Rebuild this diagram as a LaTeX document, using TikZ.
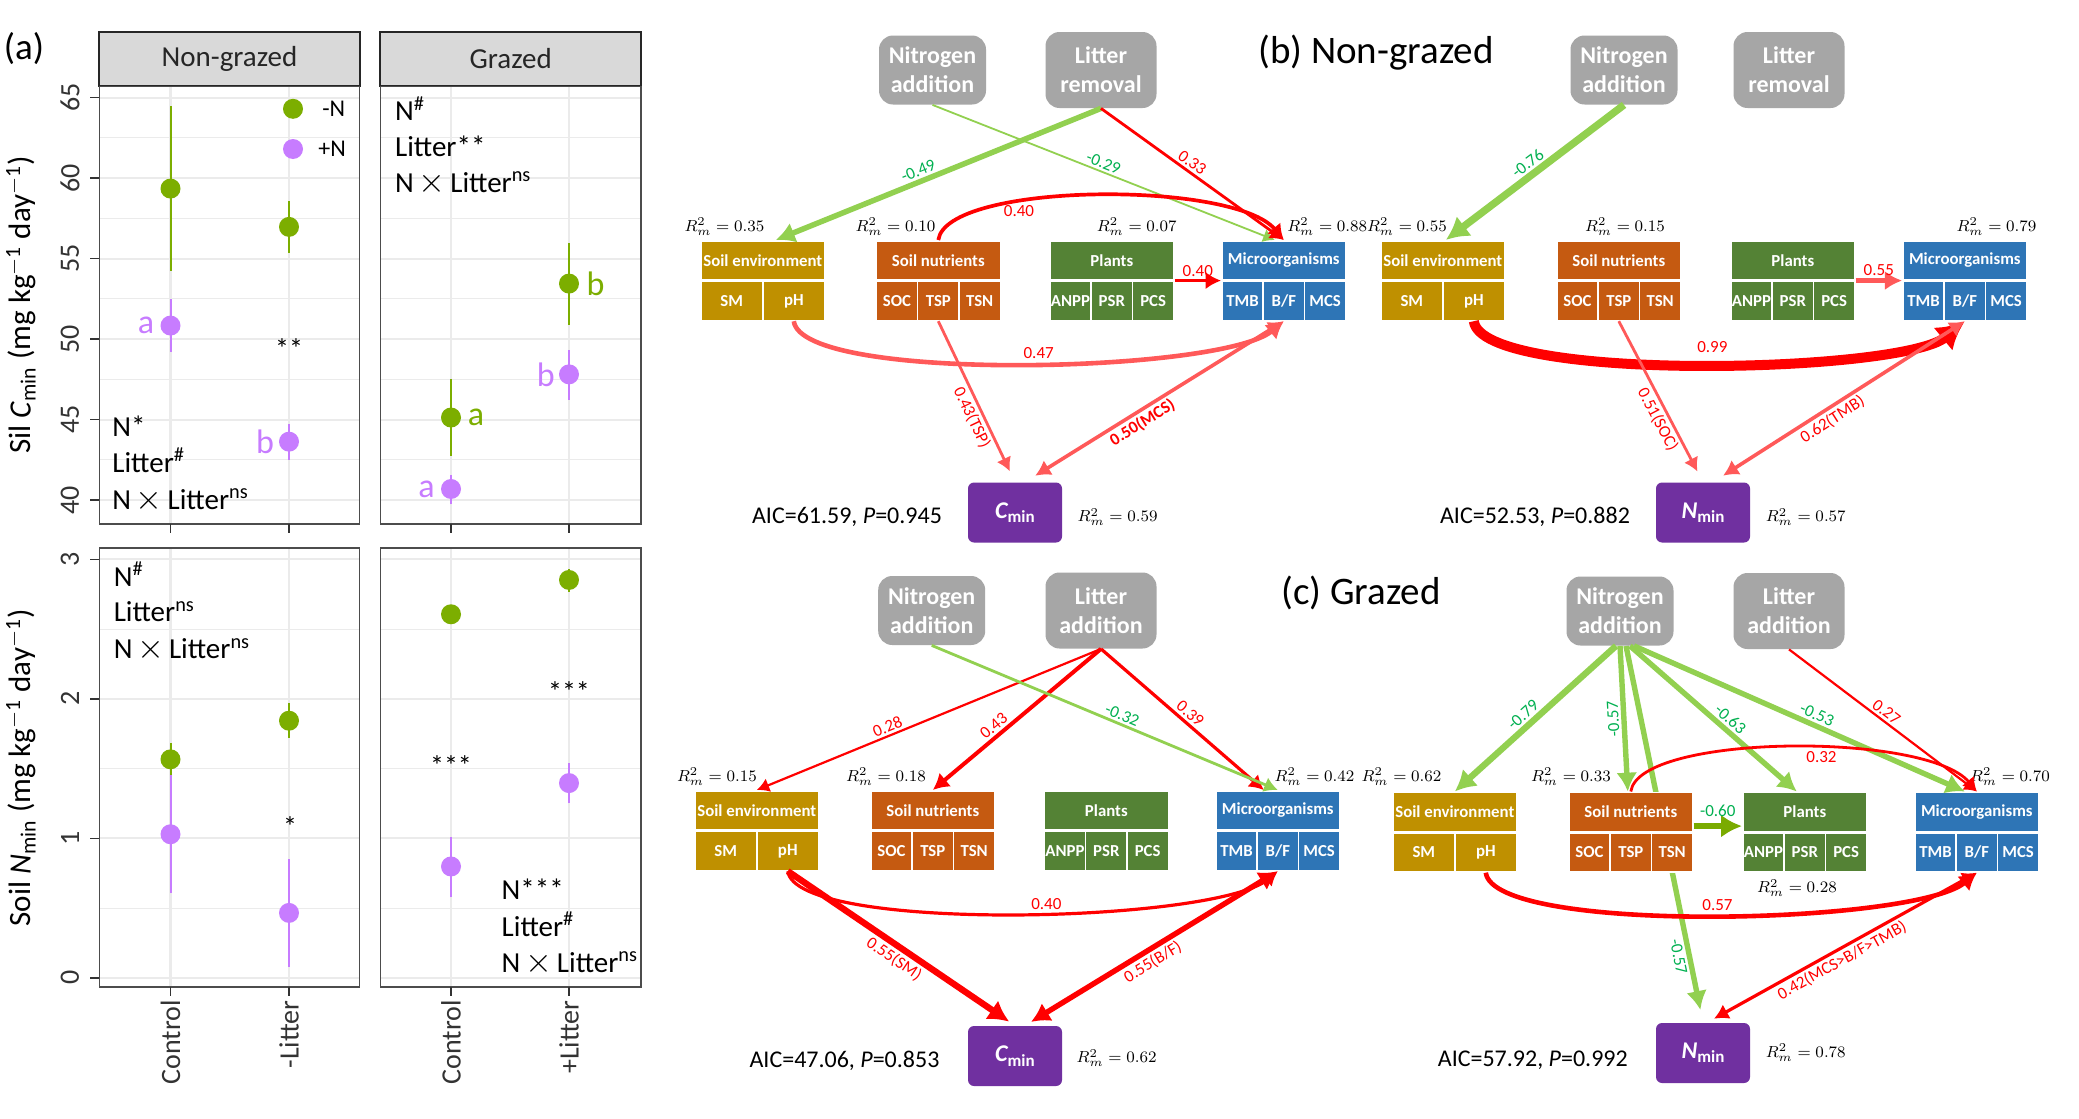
\documentclass[tikz,border=0pt]{standalone}
\usepackage{fontspec}
\setmainfont{Carlito}
\usetikzlibrary{arrows.meta}
\pgfdeclarelayer{background}
\pgfsetlayers{background,main}

\definecolor{cgrn}{HTML}{7CAE00}
\definecolor{cpur}{HTML}{C77CFF}
\definecolor{cenv}{HTML}{BF9000}
\definecolor{cnut}{HTML}{C55A11}
\definecolor{cpla}{HTML}{548235}
\definecolor{cmic}{HTML}{2E75B6}
\definecolor{cresp}{HTML}{7030A0}
\definecolor{ctrt}{HTML}{A6A6A6}
\definecolor{cpos}{HTML}{FF0000}
\definecolor{cneg}{HTML}{92D050}
\definecolor{cnegt}{HTML}{00B050}
\definecolor{colive}{HTML}{7AAB00}
\definecolor{cgrid}{HTML}{EBEBEB}
\definecolor{cstrip}{HTML}{D9D9D9}
\definecolor{ctick}{HTML}{333333}

% one SEM block: name, top left corner, colour, title, cell width, cells
\newcommand{\semblock}[6]{%
  \node[hdr, fill=#3, anchor=north west] (#1) at (#2) {#4};
  \foreach \cl [count=\i] in {#6}
    \node[hdr, fill=#3, minimum width=#5, anchor=north west]
      (#1-\i) at ([xshift={(\i-1)*#5}]#1.south west) {\cl};
}
\newcommand{\respc}{{\fontsize{12}{12}\selectfont\bfseries\itshape C}\raisebox{-0.45ex}{\fontsize{8.5}{9}\selectfont\bfseries min}}
\newcommand{\respn}{{\fontsize{12}{12}\selectfont\bfseries\itshape N}\raisebox{-0.45ex}{\fontsize{8.5}{9}\selectfont\bfseries min}}
\newcommand{\nxl}{N\,{\fontsize{18}{18}\selectfont$\times$}\,Litter\textsuperscript{ns}}

\begin{document}
\begin{tikzpicture}[x=0.5pt, y=-0.5pt,
  hdr/.style={draw=white, line width=0.8pt, text=white, inner sep=0pt,
    minimum width=62pt, minimum height=19.5pt,
    font=\fontsize{8.4}{9}\selectfont\bfseries},
  trt/.style={fill=ctrt, rounded corners=7pt, text=white, align=center,
    inner sep=0pt, minimum width=53.5pt, minimum height=34.5pt,
    font=\fontsize{12}{14.5}\selectfont\bfseries},
  trtl/.style={minimum width=55.5pt, minimum height=38pt},
  resp/.style={fill=cresp, rounded corners=3pt, text=white, inner sep=0pt,
    minimum width=47pt, minimum height=30pt},
  rsq/.style={inner sep=0pt, font=\fontsize{8.5}{10}\selectfont},
  aic/.style={inner sep=0pt, font=\fontsize{12}{14}\selectfont},
  ttl/.style={inner sep=0pt, font=\fontsize{19.5}{22}\selectfont},
  hd/.style={-{Latex[length=4pt 2,width=5pt 2]}},
  hdd/.style={{Latex[length=4pt 2,width=5pt 2]}-{Latex[length=4pt 2,width=5pt 2]}},
  poseff/.style={draw=cpos, hd},
  paleeff/.style={draw=cpos!65!white, hd},
  negeff/.style={draw=cneg, hd},
  lab/.style={inner sep=1.2pt, font=\fontsize{8.5}{9}\selectfont},
  labp/.style={lab, text=cpos},
  labn/.style={lab, text=cnegt},
  gmaj/.style={draw=cgrid, line width=1.1pt},
  gmin/.style={draw=cgrid, line width=0.55pt},
  tk/.style={draw=ctick, line width=0.7pt},
  pframe/.style={draw=black!70, line width=0.7pt},
  strip/.style={fill=cstrip, draw=black!85, line width=1pt},
  striptxt/.style={inner sep=0pt, text=black!85, font=\fontsize{14.5}{16}\selectfont},
  ticklab/.style={rotate=90, inner sep=0pt, text=ctick, font=\fontsize{14}{16}\selectfont},
  xlab/.style={rotate=90, anchor=east, inner sep=0pt, text=ctick, font=\fontsize{14}{16}\selectfont},
  ytitle/.style={rotate=90, inner sep=0pt, font=\fontsize{15.5}{18}\selectfont},
  note/.style={anchor=base west, inner sep=0pt, font=\fontsize{14.5}{16}\selectfont},
  sig/.style={inner sep=0pt, font=\fontsize{17}{18}\selectfont},
  star/.style={inner sep=0pt, yshift=-2pt, font=\fontsize{14}{16}\selectfont},
  leg/.style={anchor=west, inner sep=0pt, font=\fontsize{12}{14}\selectfont}]

\begin{pgfonlayer}{background}
  \fill[white] (0,0) rectangle (2079,1119);
\end{pgfonlayer}
\useasboundingbox (0,0) rectangle (2079,1119);

% ---------- (a) ----------
\node[inner sep=0pt, font=\fontsize{18.5}{20}\selectfont] (pa) at (24,48.5) {(a)};
\foreach \xa/\xb/\st [count=\k] in {99.4/359.6/Non-grazed, 380.3/641/Grazed}{
  \draw[strip] (\xa,31.6) rectangle (\xb,86.2);
  \node[striptxt] (strip\k) at ({(\xa+\xb)/2},58.9) {\st};
}

% top row: C_min
\begin{scope}[shift={(0,1144.1)}, y={(0pt,8.05pt)}]
  \foreach \xa/\xb in {99.4/359.6, 380.3/641}{
    \foreach \v in {42.5,47.5,...,62.5} \draw[gmin] (\xa,\v) -- (\xb,\v);
    \foreach \v in {40,45,...,65} \draw[gmaj] (\xa,\v) -- (\xb,\v);
  }
  \foreach \x in {170.5,289,451,569} \draw[gmaj] (\x,38.52) -- (\x,65.71);
  \foreach \v in {40,45,...,65}{
    \draw[tk] (90,\v) -- (99.4,\v);
    \node[ticklab] (ytc\v) at (70,\v) {\v};
  }
  \foreach \x/\m/\lo/\hi/\cl in {
      170.5/59.35/54.23/64.48/cgrn, 170.5/50.84/49.21/52.49/cpur,
      289/56.97/55.35/58.58/cgrn, 289/43.63/42.52/44.71/cpur,
      451/45.13/42.74/47.54/cgrn, 451/40.69/39.73/41.58/cpur,
      569/53.45/50.88/55.97/cgrn, 569/47.81/46.24/49.32/cpur}{
    \draw[\cl, line width=1pt] (\x,\lo) -- (\x,\hi);
    \fill[\cl] (\x,\m) circle (5pt);
  }
  \node[sig, text=cpur] (lt1) at (146,50.84) {a};
  \node[sig, text=cpur] (lt2) at (265,43.63) {b};
  \node[sig, text=cgrn] (lt3) at (476,45.13) {a};
  \node[sig, text=cpur] (lt4) at (426.5,40.69) {a};
  \node[sig, text=cgrn] (lt5) at (595.6,53.45) {b};
  \node[sig, text=cpur] (lt6) at (545.7,47.81) {b};
  \node[star] (st1) at (289,49.66) {**};
\end{scope}

% bottom row: N_min
\begin{scope}[shift={(0,977.8)}, y={(0pt,69.75pt)}]
  \foreach \xa/\xb in {99.4/359.6, 380.3/641}{
    \foreach \v in {0.5,1.5,2.5} \draw[gmin] (\xa,\v) -- (\xb,\v);
    \foreach \v in {0,1,2,3} \draw[gmaj] (\xa,\v) -- (\xb,\v);
  }
  \foreach \x in {170.5,289,451,569} \draw[gmaj] (\x,-0.066) -- (\x,3.081);
  \foreach \v in {0,1,2,3}{
    \draw[tk] (90,\v) -- (99.4,\v);
    \node[ticklab] (ytn\v) at (70,\v) {\v};
  }
  \foreach \x/\m/\lo/\hi/\cl in {
      170.5/1.566/1.457/1.681/cgrn, 170.5/1.029/0.606/1.457/cpur,
      289/1.843/1.721/1.968/cgrn, 289/0.465/0.080/0.852/cpur,
      451/2.606/2.57/2.64/cgrn, 451/0.798/0.577/1.011/cpur,
      569/2.852/2.766/2.93/cgrn, 569/1.396/1.25/1.543/cpur}{
    \draw[\cl, line width=1pt] (\x,\lo) -- (\x,\hi);
    \fill[\cl] (\x,\m) circle (5pt);
  }
  \node[star] (st2) at (290,1.115) {*};
  \node[star] (st3) at (451,1.548) {***};
  \node[star] (st4) at (569,2.08) {***};
\end{scope}

\foreach \xa/\xb in {99.4/359.6, 380.3/641}{
  \draw[pframe] (\xa,86.2) rectangle (\xb,524);
  \draw[pframe] (\xa,548) rectangle (\xb,987);
}
\foreach \x in {170.5,289,451,569}{
  \draw[tk] (\x,524) -- (\x,533);
  \draw[tk] (\x,987) -- (\x,996);
}
\foreach \x/\t [count=\k] in {170.5/Control, 289/-Litter, 451/Control, 569/+Litter}
  \node[xlab] (xl\k) at (\x,1000) {\t};
\node[ytitle] (yt1) at (21,305) {Sil \textit{C}\textsubscript{min} (mg kg\textsuperscript{$-$1} day\textsuperscript{$-$1})};
\node[ytitle] (yt2) at (21,768) {Soil \textit{N}\textsubscript{min} (mg kg\textsuperscript{$-$1} day\textsuperscript{$-$1})};

% legend
\fill[cgrn] (293,108.8) circle (5pt);
\fill[cpur] (293,149) circle (5pt);
\node[leg] (lg1) at (322,108.8) {-N};
\node[leg] (lg2) at (318,149) {+N};

% model terms
\node[note] (na1) at (112,436.3) {N*};
\node[note] (na2) at (112,472.3) {Litter\textsuperscript{\#}};
\node[note] (na3) at (112,509.3) {\nxl};
\node[note] (na4) at (394.7,120.6) {N\textsuperscript{\#}};
\node[note] (na5) at (394.7,156.3) {Litter**};
\node[note] (na6) at (394.7,192.3) {\nxl};
\node[note] (na7) at (113.4,586.3) {N\textsuperscript{\#}};
\node[note] (na8) at (113.4,621.6) {Litter\textsuperscript{ns}};
\node[note] (na9) at (113.4,658.8) {\nxl};
\node[note] (na10) at (501.3,899.9) {N***};
\node[note] (na11) at (501.3,936.3) {Litter\textsuperscript{\#}};
\node[note] (na12) at (501.3,972.3) {\nxl};

% ---------- (b) Non-grazed ----------
\node[ttl] (btitle) at (1376,53) {(b) Non-grazed};

% C_min
\node[trt] (bcnadd) at (932.5,70) {Nitrogen\\addition};
\node[trt, trtl] (bcladd) at (1101,70) {Litter\\removal};
\semblock{bcenv}{700,240}{cenv}{Soil environment}{31pt}{SM,pH}
\semblock{bcnut}{875.5,240}{cnut}{Soil nutrients}{20.667pt}{SOC,TSP,TSN}
\semblock{bcpla}{1049,240}{cpla}{Plants}{20.667pt}{ANPP,PSR,PCS}
\semblock{bcmic}{1221,240}{cmic}{Microorganisms}{20.667pt}{TMB,B/F,MCS}
\node[resp] (bcresp) at (1015,512.5) {\respc};
\node[rsq] (bcenvr) at (724.5,226.6) {$R_m^2 = 0.35$};
\node[rsq] (bcnutr) at (895.5,226.6) {$R_m^2 = 0.10$};
\node[rsq] (bcplar) at (1136.8,226.6) {$R_m^2 = 0.07$};
\node[rsq] (bcmicr) at (1327.3,226.6) {$R_m^2 = 0.88$};
\node[rsq] (bcrespr) at (1117.6,517) {$R_m^2 = 0.59$};
\node[aic] (bcaic) at (847,517) {AIC=61.59, \textit{P}=0.945};
\draw[negeff, line width=2.75pt] (bcladd.south) -- node[labn, sloped, above, pos=0.55] (bcl1) {-0.49} ([xshift=6.5pt]bcenv.north);
\draw[negeff, line width=0.9pt] (bcnadd.south) -- node[labn, sloped, above, pos=0.49] (bcl2) {-0.29} ([xshift=-4.5pt]bcmic.north);
\draw[poseff, line width=1.4pt] (bcladd.south) -- node[labp, sloped, above, pos=0.47] (bcl3) {0.33} (bcmic.north);
\draw[poseff, line width=1.85pt] (bcnut.north) .. controls +(8,-58) and +(-50,-60) .. node[labp, below, pos=0.33] (bcl4) {0.40} (bcmic.north);
\draw[poseff, line width=1.85pt] (bcpla.south east) -- node[labp, above] (bcl5) {0.40} (bcmic.south west);
\draw[paleeff, line width=2.3pt] (bcenv-2.south) .. controls +(8,62) and +(-63,52) .. node[labp, above, pos=0.53] (bcl6) {0.47} (bcmic-2.south);
\draw[paleeff, line width=1.4pt, shorten >=6pt] (bcnut-2.south) -- node[labp, sloped, below, pos=0.57] (bcl7) {0.43(TSP)} (bcresp.north);
\draw[paleeff, hdd, line width=1.8pt, shorten <=6pt] ([xshift=5pt]bcresp.north) -- node[labp, sloped, below, pos=0.43, font=\fontsize{8.5}{9}\selectfont\bfseries] (bcl8) {0.50(MCS)} (bcmic-2.south);

% N_min
\node[trt] (bnnadd) at (1624,70) {Nitrogen\\addition};
\node[trt, trtl] (bnladd) at (1789,70) {Litter\\removal};
\semblock{bnenv}{1380,240}{cenv}{Soil environment}{31pt}{SM,pH}
\semblock{bnnut}{1556,240}{cnut}{Soil nutrients}{20.667pt}{SOC,TSP,TSN}
\semblock{bnpla}{1730,240}{cpla}{Plants}{20.667pt}{ANPP,PSR,PCS}
\semblock{bnmic}{1902,240}{cmic}{Microorganisms}{20.667pt}{TMB,B/F,MCS}
\node[resp] (bnresp) at (1703,512.5) {\respn};
\node[rsq] (bnenvr) at (1407,226.6) {$R_m^2 = 0.55$};
\node[rsq] (bnnutr) at (1625,226.6) {$R_m^2 = 0.15$};
\node[rsq] (bnmicr) at (1996.5,226.6) {$R_m^2 = 0.79$};
\node[rsq] (bnrespr) at (1805.8,517) {$R_m^2 = 0.57$};
\node[aic] (bnaic) at (1535,517) {AIC=52.53, \textit{P}=0.882};
\draw[negeff, line width=3.7pt] (bnnadd.south) -- node[labn, sloped, above, pos=0.5] (bnl1) {-0.76} ([xshift=1.5pt]bnenv.north);
\draw[paleeff, line width=2.3pt] (bnpla.south east) -- node[labp, above] (bnl2) {0.55} (bnmic.south west);
\draw[poseff, line width=5pt] (bnenv-2.south) .. controls +(8,62) and +(-63,52) .. node[labp, above=2pt, pos=0.52] (bnl3) {0.99} (bnmic-2.south);
\draw[paleeff, line width=1.4pt, shorten >=6pt] (bnnut-2.south) -- node[labp, sloped, below, pos=0.58] (bnl4) {0.51(SOC)} (bnresp.north);
\draw[paleeff, hdd, line width=1.8pt, shorten <=6pt] ([xshift=5pt]bnresp.north) -- node[labp, sloped, below, pos=0.45] (bnl5) {0.62(TMB)} (bnmic-2.south);

% ---------- (c) Grazed ----------
\node[ttl] (ctitle) at (1361,593) {(c) Grazed};

% C_min
\node[trt] (ccnadd) at (931.7,610.5) {Nitrogen\\addition};
\node[trt, trtl] (ccladd) at (1101,610.5) {Litter\\addition};
\semblock{ccenv}{694,790}{cenv}{Soil environment}{31pt}{SM,pH}
\semblock{ccnut}{870,790}{cnut}{Soil nutrients}{20.667pt}{SOC,TSP,TSN}
\semblock{ccpla}{1043.5,790}{cpla}{Plants}{20.667pt}{ANPP,PSR,PCS}
\semblock{ccmic}{1215,790}{cmic}{Microorganisms}{20.667pt}{TMB,B/F,MCS}
\node[resp] (ccresp) at (1015,1056) {\respc};
\node[rsq] (ccenvr) at (717,776.8) {$R_m^2 = 0.15$};
\node[rsq] (ccnutr) at (886,776.8) {$R_m^2 = 0.18$};
\node[rsq] (ccmicr) at (1314.5,776.8) {$R_m^2 = 0.42$};
\node[rsq] (ccrespr) at (1116.6,1058) {$R_m^2 = 0.62$};
\node[aic] (ccaic) at (844.5,1060.5) {AIC=47.06, \textit{P}=0.853};
\draw[poseff, line width=1.1pt] (ccladd.south) -- node[labp, sloped, above, pos=0.61] (ccl1) {0.28} (ccenv.north);
\draw[poseff, line width=2pt] (ccladd.south) -- node[labp, sloped, above, pos=0.6] (ccl2) {0.43} (ccnut.north);
\draw[poseff, line width=1.6pt] (ccladd.south) -- node[labp, sloped, above, pos=0.51] (ccl3) {0.39} ([xshift=-7pt]ccmic.north);
\draw[negeff, line width=1.4pt] (ccnadd.south) -- node[labn, sloped, above, pos=0.54] (ccl4) {-0.32} (ccmic.north);
\draw[poseff, line width=1.6pt] (ccenv-2.south) .. controls +(8,62) and +(-63,52) .. node[labp, above, pos=0.55] (ccl5) {0.40} (ccmic-2.south);
\draw[poseff, line width=3.2pt, shorten >=3.5pt] (ccenv-2.south) -- node[labp, sloped, below, pos=0.5] (ccl6) {0.55(SM)} (ccresp.north);
\draw[poseff, hdd, line width=2.7pt, shorten <=3.5pt] ([xshift=5pt]ccresp.north) -- node[labp, sloped, below, pos=0.48] (ccl7) {0.55(B/F)} (ccmic-2.south);

% N_min
\node[trt] (cnnadd) at (1620,611) {Nitrogen\\addition};
\node[trt, trtl] (cnladd) at (1789,611) {Litter\\addition};
\semblock{cnenv}{1392,791.5}{cenv}{Soil environment}{31pt}{SM,pH}
\semblock{cnnut}{1568,791.5}{cnut}{Soil nutrients}{20.667pt}{SOC,TSP,TSN}
\semblock{cnpla}{1742,791.5}{cpla}{Plants}{20.667pt}{ANPP,PSR,PCS}
\semblock{cnmic}{1914,791.5}{cmic}{Microorganisms}{20.667pt}{TMB,B/F,MCS}
\node[resp] (cnresp) at (1703,1053) {\respn};
\node[rsq] (cnenvr) at (1401.5,776.8) {$R_m^2 = 0.62$};
\node[rsq] (cnnutr) at (1571,776.8) {$R_m^2 = 0.33$};
\node[rsq] (cnmicr) at (2010,776.8) {$R_m^2 = 0.70$};
\node[rsq] (cnplar) at (1797,888) {$R_m^2 = 0.28$};
\node[rsq] (cnrespr) at (1805.8,1052.6) {$R_m^2 = 0.78$};
\node[aic] (cnaic) at (1532.8,1060.5) {AIC=57.92, \textit{P}=0.992};
\begin{pgfonlayer}{background}
\draw[negeff, line width=2.7pt, shorten >=6.5pt] ([xshift=3pt]cnnadd.south) -- node[labn, sloped, below, pos=0.82] (cnl3) {-0.57} (cnresp.north);
\end{pgfonlayer}
\draw[negeff, line width=3.2pt] ([xshift=-2pt]cnnadd.south) -- node[labn, sloped, above, pos=0.53] (cnl1) {-0.79} (cnenv.north);
\draw[negeff, line width=2.7pt] (cnnadd.south) -- node[labn, rotate=93, anchor=south, pos=0.5] (cnl2) {-0.57} ([xshift=-1.5pt]cnnut.north);
\draw[negeff, line width=2.7pt] ([xshift=5pt]cnnadd.south) -- node[labn, sloped, above, pos=0.56] (cnl4) {-0.63} ([xshift=-4pt]cnpla.north);
\draw[negeff, line width=2.7pt] ([xshift=7pt]cnnadd.south) -- node[labn, sloped, above, pos=0.54] (cnl5) {-0.53} ([xshift=-6pt]cnmic.north);
\draw[poseff, line width=1.1pt] (cnladd.south) -- node[labp, sloped, above, pos=0.49] (cnl6) {0.27} (cnmic.north);
\draw[poseff, line width=1.4pt] (cnnut.north) .. controls +(8,-58) and +(-50,-60) .. node[labp, below, pos=0.57] (cnl7) {0.32} (cnmic.north);
\draw[hd, draw=colive, line width=3.2pt] ([yshift=3pt]cnnut.south east) -- node[labn, above=2pt] (cnl8) {-0.60} ([yshift=3pt]cnpla.south west);
\draw[poseff, line width=2.3pt] (cnenv-2.south) .. controls +(8,62) and +(-63,52) .. node[labp, above, pos=0.51] (cnl9) {0.57} (cnmic-2.south);
\draw[poseff, hdd, line width=1.6pt, shorten <=4pt] ([xshift=2pt]cnresp.north) -- node[labp, sloped, below, pos=0.48] (cnl10) {0.42(MCS>B/F>TMB)} (cnmic-2.south);
\end{tikzpicture}
\end{document}
